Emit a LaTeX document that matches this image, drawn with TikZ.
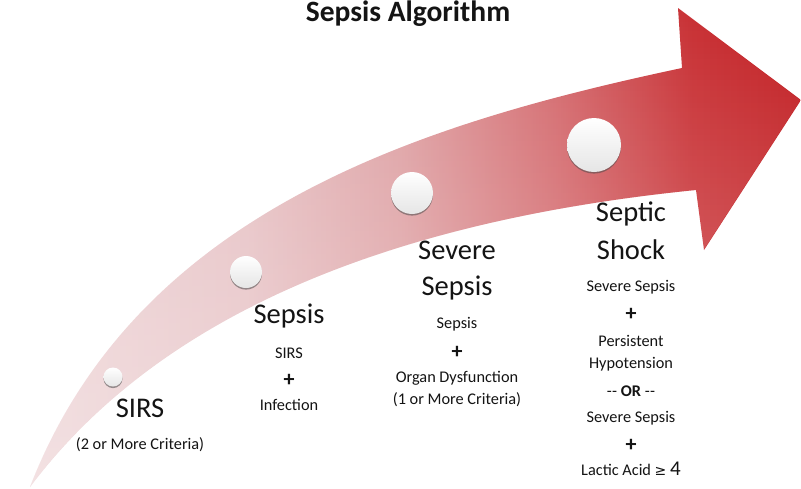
\documentclass[tikz,border=0pt]{standalone}
\usepackage{fontspec}
\setmainfont{Carlito}
\newfontfamily\symfont{DejaVu Sans}
\usetikzlibrary{shadows,fadings}
\definecolor{ca}{RGB}{237,210,212}
\definecolor{cb}{RGB}{230,192,195}
\definecolor{cc}{RGB}{222,160,163}
\definecolor{cd}{RGB}{212,106,110}
\definecolor{ce}{RGB}{200,48,52}
\definecolor{cf}{RGB}{194,32,36}
\definecolor{txt}{RGB}{20,20,20}
\pgfdeclarehorizontalshading{arrowshade}{100bp}{color(0bp)=(ca); color(25bp)=(ca); color(39bp)=(cb); color(49bp)=(cc); color(59bp)=(cd); color(68bp)=(ce); color(75bp)=(cf); color(100bp)=(cf)}
\tikzset{
  big/.style={font=\fontsize{28.5}{30}\selectfont, text=txt, inner sep=0pt, align=center},
  small/.style={font=\fontsize{16.3}{18}\selectfont, text=txt, inner sep=0pt},
  plus/.style={font=\fontsize{22}{22}\selectfont\bfseries, text=txt, inner sep=0pt},
  pearl/.style={circle, inner sep=0pt, draw=none, top color=white, bottom color=black!10,
    drop shadow={shadow xshift=0pt, shadow yshift=-1.6pt, opacity=.55, fill=black!70}},
}
\begin{document}
\begin{tikzpicture}[x=1pt,y=-1pt]
\useasboundingbox (0,0) rectangle (801,488);
\fill[white] (0,0) rectangle (801,488);
% arrow
\coordinate (tail) at (30,487);
\coordinate (up) at (682,68);
\coordinate (barbtop) at (678,8);
\coordinate (tip) at (801,100);
\coordinate (barbbot) at (704,250);
\coordinate (low) at (696,190);
\shade[shading=arrowshade] (tail) .. controls (138,208) and (428,122) .. (up)
  -- (barbtop) -- (tip) -- (barbbot) -- (low)
  .. controls (397,220) and (162,311) .. (tail) -- cycle;
\fill[white, opacity=0.35, path fading=north] (tail) .. controls (138,208) and (428,122) .. (up)
  -- (barbtop) -- (tip) -- (barbbot) -- (low)
  .. controls (397,220) and (162,311) .. (tail) -- cycle;
% pearls
\node[pearl, minimum size=19pt] (p1) at (113,377) {};
\node[pearl, minimum size=32pt] (p2) at (246,272) {};
\node[pearl, minimum size=42pt] (p3) at (412,193) {};
\node[pearl, minimum size=54pt] (p4) at (594,145) {};
% title
\node[font=\fontsize{29.5}{31}\selectfont\bfseries, text=txt, inner sep=0pt] (title) at (408,14) {Sepsis Algorithm};
% SIRS
\node[big] (sirs) at (140,408) {SIRS};
\node[small] (sirsa) at (140,445) {(2 or More Criteria)};
% Sepsis
\node[big] (sep) at (289,316) {Sepsis};
\node[small] (sepa) at (289,353) {SIRS};
\node[plus] (sepp) at (289,380) {+};
\node[small] (sepb) at (289,405) {Infection};
% Severe Sepsis
\node[big] (sev1) at (457,250) {Severe};
\node[big] (sev2) at (457,288) {Sepsis};
\node[small] (seva) at (457,324) {Sepsis};
\node[plus] (sevp) at (457,352) {+};
\node[small] (sevb) at (457,378) {Organ Dysfunction};
\node[small] (sevc) at (457,400) {(1 or More Criteria)};
% Septic shock
\node[big] (sh1) at (631,214) {Septic};
\node[big] (sh2) at (631,250) {Shock};
\node[small] (sha) at (631,287) {Severe Sepsis};
\node[plus] (shp1) at (631,314) {+};
\node[small] (shb) at (631,341) {Persistent};
\node[small] (shc) at (631,364) {Hypotension};
\node[small] (shd) at (631,391) {-\kern0.4pt- \textbf{OR} -\kern0.4pt-};
\node[small] (she) at (631,418) {Severe Sepsis};
\node[plus] (shp2) at (631,445) {+};
\node[small] (shf) at (631,469) {Lactic Acid {\symfont\fontsize{14}{16}\selectfont ≥} {\fontsize{21}{22}\selectfont 4}};
\end{tikzpicture}
\end{document}
